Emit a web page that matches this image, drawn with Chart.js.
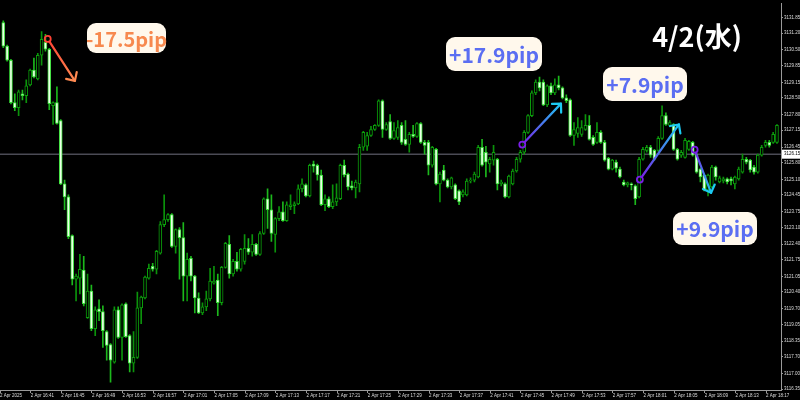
<!DOCTYPE html>
<html>
<head>
<meta charset="utf-8">
<title>2 Apr 30s chart</title>
<script src="https://cdn.jsdelivr.net/npm/chart.js@4.4.1/dist/chart.umd.min.js"></script>
<style>
  html, body { margin: 0; padding: 0; background: #000; }
  canvas { display: block; }
</style>
</head>
<body>
<canvas id="myChart" width="800" height="400"></canvas>
<script>
'use strict';

// time axis labels, one every 8 candles (30s candles)
let timeLabels = ['2 Apr 2025', '2 Apr 16:41', '2 Apr 16:45', '2 Apr 16:49', '2 Apr 16:53', '2 Apr 16:57',
  '2 Apr 17:01', '2 Apr 17:05', '2 Apr 17:09', '2 Apr 17:13', '2 Apr 17:17', '2 Apr 17:21', '2 Apr 17:25',
  '2 Apr 17:29', '2 Apr 17:33', '2 Apr 17:37', '2 Apr 17:41', '2 Apr 17:45', '2 Apr 17:49', '2 Apr 17:53',
  '2 Apr 17:57', '2 Apr 18:01', '2 Apr 18:05', '2 Apr 18:09', '2 Apr 18:13', '2 Apr 18:17'];

// price axis labels
let priceTicks = [3131.85, 3131.20, 3130.50, 3129.85, 3129.15, 3128.50, 3127.80, 3127.15, 3126.45, 3125.80,
  3125.10, 3124.45, 3123.75, 3123.10, 3122.40, 3121.75, 3121.05, 3120.40, 3119.70, 3119.05, 3118.35,
  3117.70, 3117.00, 3116.35];

let opens = [3131.64,3130.66,3130.07,3128.30,3128.09,3128.67,3128.59,3129.04,3129.66,3129.29,
  3130.28,3130.82,3130.53,3128.17,3128.30,3127.55,3124.91,3124.37,3122.75,3120.94,
  3120.98,3121.31,3119.33,3120.44,3118.87,3119.70,3119.58,3118.75,3118.21,3117.47,
  3119.66,3118.50,3119.91,3118.58,3117.43,3117.67,3119.74,3120.15,3120.98,3121.47,
  3121.35,3122.02,3123.21,3123.42,3123.63,3122.30,3123.00,3122.67,3121.06,3121.80,
  3121.06,3120.15,3119.53,3119.78,3120.11,3120.77,3120.90,3119.95,3121.43,3122.39,
  3121.15,3121.68,3121.35,3121.68,3122.22,3122.06,3122.39,3121.97,3122.84,3124.29,
  3123.83,3122.80,3123.46,3123.75,3123.38,3123.96,3124.00,3124.08,3124.70,3124.87,
  3124.41,3125.74,3125.69,3125.28,3124.04,3124.29,3123.96,3124.16,3124.29,3125.69,
  3125.32,3124.83,3124.74,3124.91,3126.44,3126.48,3126.93,3127.18,3127.35,3128.38,
  3127.18,3127.51,3126.81,3126.85,3127.35,3126.77,3126.56,3126.98,3126.89,3127.43,
  3126.64,3126.64,3125.69,3126.35,3124.91,3125.49,3125.07,3124.78,3124.87,3124.62,
  3124.45,3124.45,3125.03,3125.07,3125.20,3126.44,3126.23,3125.74,3125.90,3125.94,
  3124.91,3124.91,3124.37,3124.91,3125.45,3125.94,3126.23,3127.06,3127.76,3128.71,
  3129.16,3129.16,3128.21,3129.00,3128.71,3129.04,3128.92,3128.50,3128.42,3126.93,
  3127.02,3126.98,3127.18,3127.35,3126.85,3126.64,3127.06,3126.64,3125.98,3125.53,
  3125.82,3125.53,3124.99,3124.87,3124.91,3124.83,3124.37,3125.94,3126.31,3126.44,
  3126.31,3126.31,3126.81,3127.76,3127.35,3127.39,3126.35,3126.11,3126.02,3126.35,
  3126.64,3126.15,3125.53,3125.28,3124.66,3124.78,3125.61,3124.99,3125.03,3125.12,
  3125.12,3124.91,3125.12,3125.40,3125.94,3125.90,3125.61,3125.40,3126.11,3126.52,
  3126.64,3126.64,3126.64];

let highs = [3131.72,3130.70,3130.11,3128.67,3128.83,3128.83,3129.25,3129.70,3130.16,3130.36,
  3131.27,3131.15,3130.57,3128.34,3128.96,3127.59,3125.07,3124.45,3122.78,3121.15,
  3121.97,3121.89,3121.15,3120.69,3119.78,3120.07,3119.82,3118.79,3118.25,3119.78,
  3119.78,3119.91,3119.95,3118.62,3118.75,3120.40,3120.23,3121.06,3121.56,3121.60,
  3122.14,3123.34,3124.45,3123.67,3123.67,3123.04,3123.09,3123.30,3122.02,3121.89,
  3121.10,3120.36,3119.95,3120.44,3121.39,3121.47,3121.15,3121.47,3122.47,3122.75,
  3121.76,3122.06,3122.22,3122.80,3122.63,3122.80,3122.43,3122.92,3124.33,3124.70,
  3124.45,3123.50,3123.96,3124.16,3124.16,3124.45,3124.16,3124.87,3125.12,3124.91,
  3125.74,3125.86,3125.74,3125.49,3124.45,3124.37,3124.87,3124.91,3125.74,3125.90,
  3125.36,3125.03,3125.07,3126.56,3127.10,3127.06,3127.31,3127.39,3128.42,3128.42,
  3127.47,3127.80,3127.47,3127.55,3127.47,3127.55,3127.06,3127.35,3127.47,3127.47,
  3126.73,3126.73,3126.48,3126.39,3125.40,3125.69,3125.12,3125.20,3124.91,3124.66,
  3124.66,3125.12,3125.16,3125.40,3126.52,3126.77,3126.48,3126.02,3126.52,3125.98,
  3125.07,3124.95,3125.28,3125.53,3126.02,3126.31,3127.14,3127.80,3128.79,3129.25,
  3129.37,3129.25,3129.04,3129.12,3129.29,3129.41,3128.96,3128.63,3128.46,3127.47,
  3127.68,3127.55,3127.80,3127.76,3126.93,3127.47,3127.14,3126.73,3126.02,3125.94,
  3125.90,3125.61,3125.07,3124.99,3124.95,3124.87,3126.02,3126.44,3126.52,3126.52,
  3126.35,3126.89,3128.17,3127.88,3127.55,3127.43,3126.39,3126.31,3126.81,3126.73,
  3126.69,3126.19,3125.57,3125.32,3125.32,3125.69,3125.65,3125.24,3125.20,3125.16,
  3125.20,3125.24,3125.61,3126.15,3126.02,3125.94,3125.69,3126.15,3126.52,3126.73,
  3126.73,3127.06,3127.39];

let lows = [3130.60,3130.03,3128.25,3127.97,3127.76,3128.42,3128.30,3129.00,3129.33,3129.25,
  3129.87,3130.45,3128.01,3127.39,3127.40,3124.88,3123.83,3122.63,3120.69,3120.03,
  3120.32,3119.82,3119.30,3118.79,3118.58,3119.20,3118.09,3117.55,3116.64,3117.43,
  3118.46,3117.55,3118.50,3117.06,3117.06,3117.63,3119.08,3120.11,3120.94,3121.27,
  3121.15,3121.98,3123.13,3123.34,3122.26,3122.02,3120.94,3120.03,3120.03,3120.86,
  3119.53,3119.49,3119.45,3119.62,3120.03,3120.73,3119.41,3119.86,3121.39,3120.98,
  3121.06,3121.27,3121.27,3121.56,3121.97,3121.89,3121.93,3121.93,3122.80,3123.05,
  3122.51,3122.06,3123.38,3123.34,3123.34,3123.83,3123.67,3124.04,3124.58,3124.37,
  3124.37,3125.40,3125.07,3124.00,3123.79,3123.92,3123.88,3124.00,3124.25,3125.20,
  3124.66,3124.66,3124.33,3124.58,3126.31,3126.31,3126.89,3127.14,3127.31,3126.85,
  3127.14,3126.77,3126.77,3126.77,3126.56,3126.52,3126.23,3126.85,3126.85,3126.60,
  3126.15,3125.28,3125.61,3124.87,3124.16,3125.03,3124.74,3124.70,3124.25,3124.04,
  3124.37,3124.41,3124.95,3124.99,3125.16,3125.65,3125.20,3125.40,3125.69,3124.66,
  3124.83,3124.33,3124.33,3124.87,3125.40,3125.82,3126.15,3127.02,3127.72,3128.63,
  3128.79,3128.17,3128.13,3128.63,3128.63,3128.83,3128.46,3128.30,3126.89,3126.52,
  3126.85,3126.89,3127.14,3126.73,3126.52,3126.60,3126.60,3125.86,3125.49,3125.49,
  3125.40,3125.16,3124.83,3124.78,3124.66,3124.04,3124.33,3125.90,3126.23,3126.02,
  3125.90,3126.27,3126.77,3127.35,3127.31,3126.31,3125.90,3126.02,3125.98,3126.31,
  3126.07,3125.36,3124.99,3124.62,3124.41,3124.74,3125.07,3124.95,3124.95,3124.91,
  3124.87,3124.70,3125.07,3125.36,3125.74,3125.40,3125.32,3125.36,3126.07,3126.44,
  3126.44,3126.60,3126.60];

let closes = [3130.66,3130.07,3128.30,3128.09,3128.75,3128.59,3129.00,3129.66,3129.37,3130.28,
  3130.94,3130.53,3128.26,3128.30,3127.43,3124.91,3124.37,3122.71,3120.94,3121.06,
  3121.35,3119.91,3120.44,3118.87,3119.66,3119.58,3118.79,3118.17,3117.55,3119.66,
  3118.50,3119.86,3118.54,3117.43,3117.67,3119.74,3120.19,3121.02,3121.39,3121.35,
  3122.10,3123.21,3123.42,3123.63,3122.30,3123.00,3122.67,3121.06,3121.76,3121.06,
  3120.15,3119.53,3119.78,3120.11,3120.86,3120.86,3119.95,3121.43,3122.43,3121.15,
  3121.68,3121.35,3122.18,3122.22,3122.06,3122.39,3121.97,3122.84,3124.29,3123.83,
  3122.84,3123.46,3123.75,3123.38,3124.04,3124.04,3124.08,3124.70,3124.91,3124.41,
  3125.69,3125.65,3125.28,3124.04,3124.29,3123.96,3124.16,3124.33,3125.69,3125.28,
  3124.78,3124.74,3124.99,3126.44,3127.06,3126.93,3127.18,3127.35,3128.38,3127.18,
  3127.39,3126.81,3127.14,3127.26,3126.64,3126.56,3126.98,3126.89,3127.43,3126.64,
  3126.52,3125.69,3126.44,3124.91,3125.32,3125.07,3124.78,3125.16,3124.29,3124.16,
  3124.58,3125.03,3125.07,3125.32,3126.44,3125.69,3125.82,3125.94,3126.23,3124.91,
  3124.99,3124.37,3125.24,3125.45,3125.94,3126.23,3127.06,3127.76,3128.71,3129.16,
  3128.92,3128.21,3129.00,3128.71,3129.04,3128.92,3128.50,3128.38,3126.93,3127.18,
  3127.26,3127.26,3127.35,3126.77,3126.56,3127.06,3126.64,3125.90,3125.53,3125.90,
  3125.57,3125.20,3124.87,3124.95,3124.87,3124.29,3125.94,3126.35,3126.44,3126.11,
  3125.94,3126.81,3127.76,3127.39,3127.47,3126.35,3125.94,3126.23,3126.73,3126.69,
  3126.11,3125.40,3125.20,3124.66,3125.28,3125.61,3125.20,3125.16,3125.12,3124.99,
  3125.03,3125.20,3125.53,3125.94,3125.82,3125.49,3125.40,3126.11,3126.44,3126.64,
  3126.52,3126.98,3127.35];

// horizontal price line and its tag
let linePrice = 3126.15;

// pip moves: start and end point as [candle index, price]
let moveLabels = ['-17.5pip', '+17.9pip', '+7.9pip', '+9.9pip'];
let moveFrom = [[11.6, 3130.96], [135.5, 3126.55], [166.2, 3125.09], [180.5, 3126.34]];
let moveTo = [[18.7, 3129.21], [145.6, 3128.26], [176.4, 3127.39], [184.8, 3124.54]];
let dayLabel = '4/2(水)';

let bodies = opens.map((o, i) => ({x: i, y: [o, closes[i]]}));
let wicks = lows.map((l, i) => ({x: i, y: [l, highs[i]]}));

function isDown(i) {
    return closes[i] < opens[i];
}

function drawArrow(ctx, x1, y1, x2, y2, c1, c2) {
    let a = Math.atan2(y2 - y1, x2 - x1);
    let g = ctx.createLinearGradient(x1, y1, x2, y2);
    g.addColorStop(0, c1);
    g.addColorStop(1, c2);
    ctx.save();
    ctx.lineCap = 'round';
    ctx.lineJoin = 'round';
    ctx.lineWidth = 2.2;
    ctx.strokeStyle = g;
    ctx.beginPath();
    ctx.moveTo(x1 + Math.cos(a) * 3.5, y1 + Math.sin(a) * 3.5);
    ctx.lineTo(x2, y2);
    ctx.stroke();
    // open arrow head
    ctx.strokeStyle = c2;
    ctx.beginPath();
    ctx.moveTo(x2 - 9 * Math.cos(a - 0.78), y2 - 9 * Math.sin(a - 0.78));
    ctx.lineTo(x2, y2);
    ctx.lineTo(x2 - 9 * Math.cos(a + 0.78), y2 - 9 * Math.sin(a + 0.78));
    ctx.stroke();
    // ring at the start
    ctx.strokeStyle = c1;
    ctx.lineWidth = 1.8;
    ctx.beginPath();
    ctx.arc(x1, y1, 3, 0, Math.PI * 2);
    ctx.stroke();
    ctx.restore();
}

function drawTag(ctx, text, box, color, size) {
    ctx.save();
    ctx.fillStyle = '#fff8ec';
    ctx.beginPath();
    ctx.roundRect(box[0], box[1], box[2], box[3], 9);
    ctx.fill();
    ctx.fillStyle = color;
    ctx.font = 'bold ' + size + 'px "Noto Sans CJK JP", "Noto Sans", sans-serif';
    ctx.textAlign = 'center';
    ctx.textBaseline = 'middle';
    ctx.fillText(text, box[0] + box[2] / 2, box[1] + box[3] / 2 + 1);
    ctx.restore();
}

let marksPlugin = {
    id: 'marks',
    beforeDatasetsDraw(chart) {
        let ctx = chart.ctx;
        let area = chart.chartArea;
        let y = chart.scales.y.getPixelForValue(linePrice);
        ctx.save();
        ctx.strokeStyle = '#4b4b55';
        ctx.lineWidth = 1.5;
        ctx.beginPath();
        ctx.moveTo(area.left, y);
        ctx.lineTo(area.right, y);
        ctx.stroke();
        ctx.restore();
    },
    afterDraw(chart) {
        let ctx = chart.ctx;
        let xs = chart.scales.x;
        let ys = chart.scales.y;
        let area = chart.chartArea;

        // price tag on the axis
        let ty = ys.getPixelForValue(linePrice);
        ctx.save();
        ctx.fillStyle = '#ffffff';
        ctx.fillRect(area.right + 1, ty - 4.5, 19, 9);
        ctx.fillStyle = '#000000';
        ctx.font = '4.5px "Liberation Sans"';
        ctx.textBaseline = 'middle';
        ctx.fillText(linePrice.toFixed(2), area.right + 3, ty);
        ctx.restore();

        // arrows
        let colors = [['#ff4234', '#ff8a52'], ['#7a1ee6', '#1ccaf2'], ['#7a1ee6', '#1ccaf2'], ['#7a1ee6', '#1ccaf2']];
        for (let i = 0; i < moveFrom.length; i++) {
            drawArrow(ctx,
                xs.getPixelForValue(moveFrom[i][0]), ys.getPixelForValue(moveFrom[i][1]),
                xs.getPixelForValue(moveTo[i][0]), ys.getPixelForValue(moveTo[i][1]),
                colors[i][0], colors[i][1]);
        }

        // pip labels
        let boxes = [[87, 23, 79, 30], [446, 37, 96, 34], [603, 67, 84, 34], [673, 212, 84, 33]];
        let textColors = ['#f7894f', '#5b6ef2', '#5b6ef2', '#5b6ef2'];
        let sizes = [20, 21, 21, 21];
        for (let i = 0; i < moveLabels.length; i++) {
            drawTag(ctx, moveLabels[i], boxes[i], textColors[i], sizes[i]);
        }

        // date
        ctx.save();
        ctx.fillStyle = '#ffffff';
        ctx.font = 'bold 27px "Noto Sans CJK JP", sans-serif';
        ctx.textAlign = 'center';
        ctx.textBaseline = 'alphabetic';
        ctx.fillText(dayLabel, 697, 47);
        ctx.restore();
    }
};

Chart.defaults.font.family = '"Liberation Sans", sans-serif';

let ctx = document.getElementById('myChart').getContext('2d');
let chart = new Chart(ctx, {
    type: 'bar',
    data: {
        datasets: [
            {
                // candle bodies (drawn on top)
                label: 'body',
                data: bodies,
                grouped: false,
                barThickness: 3,
                borderWidth: 1,
                borderSkipped: false,
                backgroundColor: c => isDown(c.dataIndex) ? '#eaffe6' : '#000000',
                borderColor: c => isDown(c.dataIndex) ? '#38e038' : '#0b9e0b'
            },
            {
                label: 'wick',
                data: wicks,
                grouped: false,
                barThickness: 1,
                borderWidth: 0,
                backgroundColor: c => isDown(c.dataIndex) ? '#1cb81c' : '#0b930b'
            }
        ]
    },
    options: {
        responsive: false,
        animation: false,
        devicePixelRatio: 1,
        layout: { padding: 0 },
        plugins: {
            legend: { display: false },
            tooltip: { enabled: false }
        },
        scales: {
            x: {
                type: 'linear',
                offset: false,
                min: -0.86,
                max: 203.05,
                grid: { drawOnChartArea: false, tickLength: 3, color: '#9a9a9a', offset: false },
                border: { color: '#9a9a9a' },
                afterBuildTicks: s => { s.ticks = timeLabels.map((t, k) => ({value: k * 8 - 0.85})); },
                afterFit: s => { s.height = 10; s.paddingLeft = 0; s.paddingRight = 0; },
                ticks: {
                    autoSkip: false,
                    maxRotation: 0,
                    align: 'start',
                    padding: 0,
                    color: '#dddddd',
                    font: { size: 4.5 },
                    callback: (v, k) => timeLabels[k]
                }
            },
            y: {
                position: 'right',
                min: 3116.31,
                max: 3132.43,
                grid: { drawOnChartArea: false, tickLength: 2, color: '#9a9a9a' },
                border: { color: '#9a9a9a' },
                afterBuildTicks: s => { s.ticks = priceTicks.map(v => ({value: v})); },
                afterFit: s => { s.width = 19; },
                ticks: {
                    autoSkip: false,
                    padding: 1,
                    color: '#dddddd',
                    font: { size: 4.5 },
                    callback: v => v.toFixed(2)
                }
            }
        }
    },
    plugins: [marksPlugin]
});
</script>
</body>
</html>
